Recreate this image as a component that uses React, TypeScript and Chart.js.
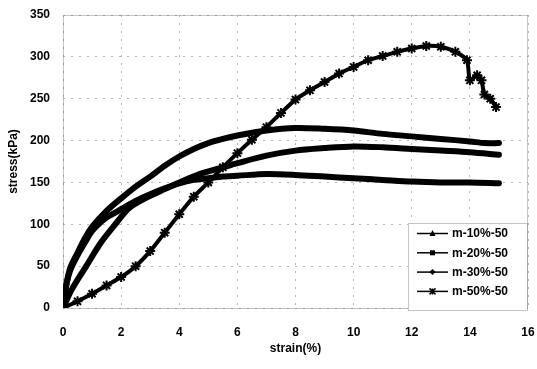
import React, { useEffect, useRef } from "react";
import { Chart, registerables } from "chart.js";

Chart.register(...registerables);

// ---- data ----
const xTicks = [0, 2, 4, 6, 8, 10, 12, 14, 16];
const yTicks = [0, 50, 100, 150, 200, 250, 300, 350];

const seriesLabels = ["m-10%-50", "m-20%-50", "m-30%-50", "m-50%-50"];

const strain10 = [0, 0.1, 0.25, 0.5, 0.75, 1, 1.25, 1.5, 1.75, 2, 2.5, 3, 3.5, 4, 4.5, 5, 5.5, 6, 7, 8, 9, 10, 11, 12, 13, 14, 15];
const stress10 = [0, 25, 45, 63, 78, 92, 101, 108, 113, 118, 128, 136, 143, 149, 153, 155, 157, 158, 160, 159, 157, 155, 153, 151, 150, 150, 149];

const strain20 = [0, 0.3, 0.8, 1.3, 1.8, 2.3, 3, 3.5, 4, 4.7, 5.5, 6, 7, 8, 9, 10, 11, 12, 13, 14, 15];
const stress20 = [0, 22, 50, 78, 100, 120, 134, 142, 150, 160, 168, 173, 182, 188, 191, 193, 192, 190, 188, 186, 183];

const strain30 = [0, 0.1, 0.25, 0.5, 0.75, 1, 1.5, 2, 2.5, 3, 3.5, 4, 4.5, 5, 5.5, 6, 7, 8, 9, 10, 11, 12, 13, 14, 14.5, 15];
const stress30 = [0, 25, 48, 66, 83, 97, 116, 131, 145, 157, 170, 181, 190, 197, 202, 206, 212, 215, 214, 212, 208, 205, 202, 199, 197, 197];

const strain50 = [0, 0.5, 1, 1.5, 2, 2.5, 3, 3.5, 4, 4.5, 5, 5.5, 6, 6.5, 7, 7.5, 8, 8.5, 9, 9.5, 10, 10.5, 11, 11.5, 12, 12.5, 13, 13.5, 13.9, 14, 14.25, 14.4, 14.5, 14.7, 14.9];
const stress50 = [0, 8, 17, 27, 37, 50, 68, 90, 112, 133, 150, 168, 185, 201, 216, 233, 249, 260, 270, 280, 288, 296, 301, 306, 310, 313, 312, 306, 296, 272, 278, 272, 255, 250, 240];

const markerStyles = ["triangle", "rect", "rectRot", "star"];

const FONT = "'Liberation Sans', Arial, Helvetica, sans-serif";

const toPoints = (xs: number[], ys: number[]) => xs.map((x, i) => ({ x, y: ys[i] }));

function drawMarker(ctx: CanvasRenderingContext2D, style: string, x: number, y: number) {
  ctx.save();
  ctx.fillStyle = "#000";
  ctx.strokeStyle = "#000";
  ctx.lineWidth = 1.5;
  const r = 3;
  ctx.beginPath();
  if (style === "triangle") {
    ctx.moveTo(x, y - r - 0.5);
    ctx.lineTo(x + r, y + r - 0.5);
    ctx.lineTo(x - r, y + r - 0.5);
    ctx.closePath();
    ctx.fill();
  } else if (style === "rect") {
    ctx.rect(x - r + 0.5, y - r + 0.5, 2 * r - 1, 2 * r - 1);
    ctx.fill();
  } else if (style === "rectRot") {
    ctx.moveTo(x, y - r);
    ctx.lineTo(x + r, y);
    ctx.lineTo(x, y + r);
    ctx.lineTo(x - r, y);
    ctx.closePath();
    ctx.fill();
  } else {
    ctx.moveTo(x - r, y - r);
    ctx.lineTo(x + r, y + r);
    ctx.moveTo(x + r, y - r);
    ctx.lineTo(x - r, y + r);
    ctx.moveTo(x, y - r);
    ctx.lineTo(x, y + r);
    ctx.stroke();
  }
  ctx.restore();
}

const framePlugin = {
  id: "frame",
  beforeDatasetsDraw(chart: any) {
    const { ctx, chartArea: a } = chart;
    ctx.save();
    ctx.strokeStyle = "#8a8a8a";
    ctx.lineWidth = 1;
    ctx.setLineDash([1, 1]);
    ctx.strokeRect(a.left + 0.5, a.top + 0.5, a.right - a.left - 1, a.bottom - a.top);
    ctx.restore();
  },
};

const legendPlugin = {
  id: "innerLegend",
  afterDraw(chart: any) {
    const { ctx, chartArea: a } = chart;
    const w = 119;
    const h = 87;
    const x0 = a.right - w - 1;
    const y0 = a.bottom - h + 2;
    ctx.save();
    ctx.fillStyle = "#ffffff";
    ctx.fillRect(x0, y0, w, h);
    ctx.strokeStyle = "#8a8a8a";
    ctx.lineWidth = 1;
    ctx.setLineDash([1, 1]);
    ctx.strokeRect(x0 + 0.5, y0 + 0.5, w, h);
    ctx.setLineDash([]);
    ctx.font = `bold 12px ${FONT}`;
    ctx.textBaseline = "middle";
    ctx.textAlign = "left";
    seriesLabels.forEach((label, i) => {
      const y = y0 + 10.5 + i * 19.3;
      ctx.strokeStyle = "#000";
      ctx.lineWidth = 1.5;
      ctx.beginPath();
      ctx.moveTo(x0 + 9, y);
      ctx.lineTo(x0 + 40, y);
      ctx.stroke();
      drawMarker(ctx, markerStyles[i], x0 + 24.5, y);
      ctx.fillStyle = "#000";
      ctx.fillText(label, x0 + 44, y + 0.5);
    });
    ctx.restore();
  },
};

export default function App() {
  const ref = useRef<HTMLCanvasElement | null>(null);

  useEffect(() => {
    document.body.style.margin = "0";
    const canvas = ref.current;
    if (!canvas) return;

    const lineDs = (label: string, xs: number[], ys: number[], style: string) => ({
      label,
      data: toPoints(xs, ys),
      borderColor: "#000",
      backgroundColor: "#000",
      borderWidth: 6,
      pointRadius: 0,
      pointStyle: style,
      tension: 0.3,
      fill: false,
      borderCapStyle: "round",
      borderJoinStyle: "round",
    });

    const chart = new Chart(canvas, {
      type: "line",
      data: {
        datasets: [
          lineDs(seriesLabels[0], strain10, stress10, markerStyles[0]),
          lineDs(seriesLabels[1], strain20, stress20, markerStyles[1]),
          lineDs(seriesLabels[2], strain30, stress30, markerStyles[2]),
          {
            label: seriesLabels[3],
            data: toPoints(strain50, stress50),
            borderColor: "#000",
            backgroundColor: "#000",
            borderWidth: 4,
            pointRadius: 5,
            pointBorderWidth: 2,
            pointStyle: "star",
            tension: 0.2,
            fill: false,
          } as any,
        ],
      },
      options: {
        animation: false,
        responsive: true,
        maintainAspectRatio: false,
        layout: { padding: { top: 15, right: 9, left: 0, bottom: 0 } },
        plugins: {
          legend: { display: false },
          tooltip: { enabled: false },
        },
        scales: {
          x: {
            type: "linear",
            min: 0,
            max: 16,
            afterBuildTicks: (s: any) => {
              s.ticks = xTicks.map((v) => ({ value: v }));
            },
            afterFit: (s: any) => {
              s.height = 61;
              s.paddingLeft = 0;
              s.paddingRight = 0;
            },
            ticks: {
              padding: 17,
              color: "#000",
              font: { family: FONT, size: 12, weight: "bold" },
              maxRotation: 0,
            },
            grid: { color: "#b4b4b4", lineWidth: 1, drawTicks: false },
            border: { display: false, dash: [2, 6] },
            title: {
              display: true,
              text: "strain(%)",
              color: "#000",
              font: { family: FONT, size: 12, weight: "bold" },
              padding: { top: 0, bottom: 13 },
            },
          },
          y: {
            type: "linear",
            min: 0,
            max: 350,
            afterBuildTicks: (s: any) => {
              s.ticks = yTicks.map((v) => ({ value: v }));
            },
            afterFit: (s: any) => {
              s.width = 63;
              s.paddingTop = 0;
              s.paddingBottom = 0;
            },
            ticks: {
              padding: 13,
              color: "#000",
              font: { family: FONT, size: 12, weight: "bold" },
            },
            grid: { color: "#b4b4b4", lineWidth: 1, drawTicks: false },
            border: { display: false, dash: [2, 6] },
            title: {
              display: true,
              text: "stress(kPa)",
              color: "#000",
              font: { family: FONT, size: 12, weight: "bold" },
              padding: { top: 6, bottom: 0 },
            },
          },
        },
      } as any,
      plugins: [framePlugin, legendPlugin],
    });

    return () => chart.destroy();
  }, []);

  return (
    <div style={{ position: "relative", width: 537, height: 369, background: "#fff" }}>
      <canvas ref={ref} />
    </div>
  );
}
